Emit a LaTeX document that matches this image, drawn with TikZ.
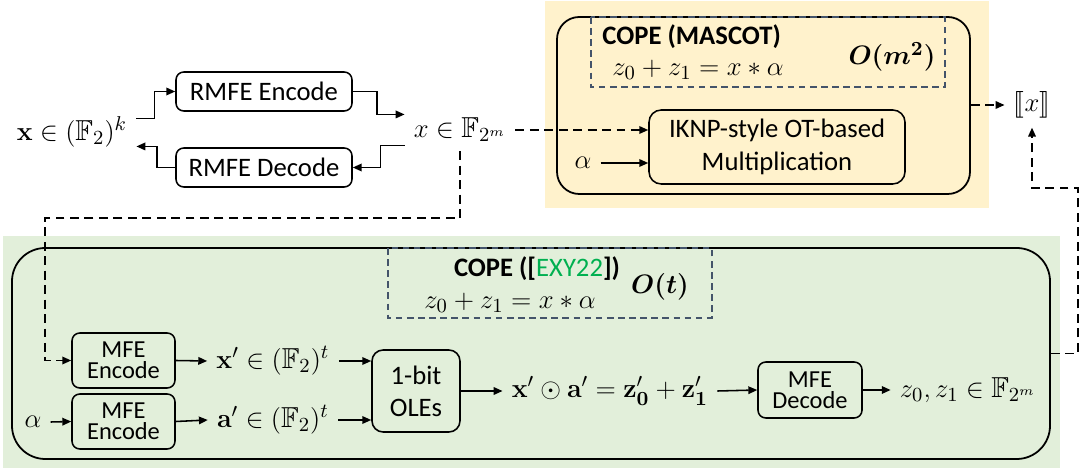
\documentclass[tikz,border=0pt,12pt]{standalone}
\usepackage[no-math]{fontspec}
\setmainfont{Carlito}
\usepackage{amsmath,amssymb,stmaryrd}
\usepackage{xcolor}
\usetikzlibrary{arrows.meta}
\definecolor{PeachFill}{HTML}{FFF2CC}
\definecolor{SageFill}{HTML}{E2EFDA}
\definecolor{SlateDash}{HTML}{44546A}
\definecolor{CiteGreen}{HTML}{00B050}
\tikzset{
  opbox/.style={
    draw,
    rounded corners=3.5pt,
    line width=0.7pt,
    align=center,
    inner sep=0pt,
  },
  mfebox/.style={
    opbox,
    font=\fontsize{11}{9.6}\selectfont,
  },
  panel/.style={
    draw,
    line width=0.8pt,
    inner sep=0pt,
  },
  citebox/.style={
    draw=SlateDash,
    dash pattern=on 3pt off 2pt,
    line width=0.6pt,
  },
  maths/.style={
    inner sep=4pt,
    font=\fontsize{13}{16}\selectfont,
  },
  flow/.style={
    -{Triangle[length=4pt,width=3.4pt]},
    line width=0.7pt,
  },
  dflow/.style={
    flow,
    dash pattern=on 4pt off 2.5pt,
  }
}

\begin{document}
\begin{tikzpicture}[x=0.45pt, y=-0.45pt]
  \useasboundingbox (0,0) rectangle (1080,473);
  % backgrounds
  \fill[PeachFill] (545,1) rectangle (989,208);
  \fill[SageFill] (3,236) rectangle (1060,468);

  % RMFE packing
  \node[maths] (xk) at (72,132) {$\mathbf{x}\in(\mathbb{F}_2)^k$};
  \node[
    opbox,
    minimum width=79.2pt,
    minimum height=17.55pt
  ] (renc) at (264,91.5) {RMFE Encode};
  \node[
    opbox,
    minimum width=79.2pt,
    minimum height=17.55pt
  ] (rdec) at (264,167.5) {RMFE Decode};
  \node[maths] (xm) at (460,130) {$x\in\mathbb{F}_{2^m}$};

  % MASCOT panel
  \node[
    panel,
    rounded corners=10pt,
    minimum width=185.85pt,
    minimum height=79.65pt
  ] (mascot) at (763.5,105.5) {};
  \draw[citebox] (591,17) rectangle (945,87);
  \node[anchor=west, inner sep=0pt] (mtitle) at (602,37) {\textbf{COPE (MASCOT)}};
  \node[maths, anchor=west, inner sep=0pt] (meq) at (612,70) {$z_0+z_1=x*\alpha$};
  \node[maths, inner sep=0pt] (mcost) at (892,57) {$\boldsymbol{O(m^2)}$};
  \node[
    opbox,
    rounded corners=5.5pt,
    minimum width=115.2pt,
    minimum height=33.3pt
  ] (iknp) at (777,147) {IKNP-style OT-based\\Multiplication};
  \node[maths] (alphaA) at (583,163) {$\alpha$};
  \node[maths] (share) at (1032,105) {$\llbracket x\rrbracket$};

  % EXY22 panel
  \node[
    panel,
    rounded corners=15pt,
    minimum width=467.1pt,
    minimum height=94.95pt
  ] (cope) at (531,353.5) {};
  \draw[citebox] (388,248) rectangle (712,318);
  \node[inner sep=0pt] (ctitle) at (537,269) {\textbf{COPE ([}{\color{CiteGreen}EXY22}\textbf{])}};
  \node[maths, inner sep=0pt] (ceq) at (510,303) {$z_0+z_1=x*\alpha$};
  \node[maths, inner sep=0pt] (ccost) at (660,287) {$\boldsymbol{O(t)}$};
  \node[
    mfebox,
    minimum width=46.35pt,
    minimum height=24.75pt
  ] (encx) at (123.5,360.5) {MFE\\Encode};
  \node[
    mfebox,
    minimum width=46.35pt,
    minimum height=24.75pt
  ] (enca) at (123.5,421.5) {MFE\\Encode};
  \node[maths] (alphaB) at (33,422) {$\alpha$};
  \node[maths] (xp) at (273,361) {$\mathbf{x}'\in(\mathbb{F}_2)^t$};
  \node[maths] (ap) at (273,420) {$\mathbf{a}'\in(\mathbb{F}_2)^t$};
  \node[
    opbox,
    rounded corners=5pt,
    minimum width=39.6pt,
    minimum height=36.9pt
  ] (ole) at (416,391) {1-bit\\OLEs};
  \node[maths] (prod) at (610,391) {$\mathbf{x}'\odot\mathbf{a}'=\mathbf{z}_{\mathbf{0}}'+\mathbf{z}_{\mathbf{1}}'$};
  \node[
    mfebox,
    minimum width=46.8pt,
    minimum height=25.2pt
  ] (dec) at (810,390) {MFE\\Decode};
  \node[maths] (zout) at (968,390) {$z_0,z_1\in\mathbb{F}_{2^m}$};

  \coordinate (bendL) at (45,218);
  \coordinate (bendR) at (1078,188);

  \draw[flow] ([yshift=6pt]xk.east) -- ++(18,0) |- (renc.west);
  \draw[flow] (renc.east) -- ++(24,0) |- ([yshift=7pt]xm.west);
  \draw[flow] ([yshift=-7pt]xm.west) -- ++(-24,0) |- (rdec.east);
  \draw[flow] (rdec.west) -- ++(-18,0) |- ([yshift=-6.5pt]xk.east);

  \draw[dflow] (xm.east) -- (xm.east -| iknp.west);
  \draw[flow] (alphaA.east) -- (alphaA.east -| iknp.west);
  \draw[dflow] (mascot.east |- share.west) -- (share.west);
  \draw[dflow] (cope.east) -| (bendR) -| (share.south);
  \draw[dflow] (xm.south) |- (bendL) |- (encx.west);

  \draw[flow] (alphaB.east) -- (enca.west);
  \draw[flow] (encx.east) -- (xp.west);
  \draw[flow] (enca.east) -- (ap.west);
  \draw[flow] (xp.east) -- (xp.east -| ole.west);
  \draw[flow] (ap.east) -- (ap.east -| ole.west);
  \draw[flow] (ole.east) -- (prod.west);
  \draw[flow] (prod.east) -- (dec.west);
  \draw[flow] (dec.east) -- (zout.west);
\end{tikzpicture}
\end{document}
